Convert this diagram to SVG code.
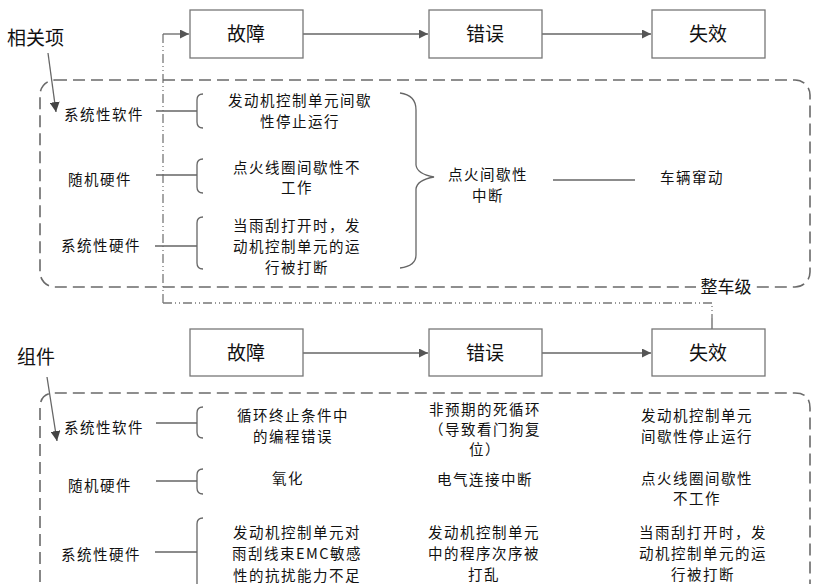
<svg xmlns="http://www.w3.org/2000/svg" width="816" height="584" viewBox="0 0 816 584">
<defs>
<marker id="arr" viewBox="0 0 10 10" refX="10" refY="5" markerWidth="9" markerHeight="9" markerUnits="userSpaceOnUse" orient="auto"><path d="M0,0 L10,5 L0,10 z" fill="#555"/></marker>
<marker id="arr2" viewBox="0 0 10 10" refX="10" refY="5" markerWidth="10" markerHeight="10" markerUnits="userSpaceOnUse" orient="auto"><path d="M0,0 L10,5 L0,10 z" fill="#444"/></marker>
</defs>
<style>
text{font-family:"Noto Sans CJK SC","Liberation Sans",sans-serif;fill:#111;text-anchor:middle;}
.t{font-size:14.5px;letter-spacing:1.5px;}
.b{font-size:19px;}
.h{font-size:19px;text-anchor:start;}
.box{fill:#fff;stroke:#777;stroke-width:1.3;}
.ln{stroke:#666;stroke-width:1.3;fill:none;}
.dash{stroke:#6a6a6a;stroke-width:1.6;fill:none;stroke-dasharray:12 6;}
.dd{stroke:#777;stroke-width:1.3;fill:none;stroke-dasharray:9 3 1 3 1 3;}
</style>
<rect width="816" height="584" fill="#fff"/>

<g id="connectors">
<path class="dd" d="M163,303 L163,34"/>
<path class="ln" d="M163,34 L189,34" marker-end="url(#arr)"/>
<path class="dd" d="M163,303 L712,303 L712,318"/>
<path class="ln" d="M712,318 L712,329"/>
<path class="ln" d="M303,34 L428,34" marker-end="url(#arr)"/>
<path class="ln" d="M542,34 L651,34" marker-end="url(#arr)"/>
<path class="ln" d="M303,353 L428,353" marker-end="url(#arr)"/>
<path class="ln" d="M542,353 L651,353" marker-end="url(#arr)"/>
<path class="ln" d="M48,53 L56,112" marker-end="url(#arr2)"/>
<path class="ln" d="M47,377 L57,441" marker-end="url(#arr2)"/>
<path class="ln" d="M156,111 L197,111 M156,175 L197,175 M155,246 L197,246"/>
<path class="ln" d="M156,423 L197,423 M156,481 L197,481 M155,552 L197,552"/>
<path class="ln" d="M553,180 L635,180"/>
</g>

<g id="vehicle-level">
<rect class="dash" x="40" y="80" width="770" height="207" rx="15"/>
<rect x="696" y="278" width="60" height="18" fill="#fff"/>
<text x="726" y="293" style="font-size:17px">整车级</text>
</g>
<g id="component-level">
<path class="dash" d="M40,600 L40,408 Q40,393 55,393 L795,393 Q810,393 810,408 L810,600"/>
</g>

<g id="label-item"><text class="h" x="7" y="45">相关项</text></g>
<g id="label-comp"><text class="h" x="17" y="364">组件</text></g>

<g id="box-fault1"><rect class="box" x="190" y="10" width="113" height="48"/><text class="b" x="246" y="41">故障</text></g>
<g id="box-error1"><rect class="box" x="429" y="10" width="113" height="48"/><text class="b" x="485" y="41">错误</text></g>
<g id="box-fail1"><rect class="box" x="652" y="10" width="113" height="48"/><text class="b" x="708" y="41">失效</text></g>
<g id="box-fault2"><rect class="box" x="190" y="329" width="113" height="47"/><text class="b" x="246" y="360">故障</text></g>
<g id="box-error2"><rect class="box" x="429" y="329" width="113" height="47"/><text class="b" x="485" y="360">错误</text></g>
<g id="box-fail2"><rect class="box" x="652" y="329" width="113" height="47"/><text class="b" x="708" y="360">失效</text></g>

<g id="top-rows">
<text class="t" x="104" y="120">系统性软件</text>
<text class="t" x="100" y="185">随机硬件</text>
<text class="t" x="101" y="251">系统性硬件</text>
<path class="ln" d="M203,94 Q197,94 197,100 L197,122 Q197,128 203,128"/>
<path class="ln" d="M203,159 Q197,159 197,165 L197,187 Q197,193 203,193"/>
<path class="ln" d="M203,217 Q197,217 197,223 L197,263 Q197,269 203,269"/>
<text class="t" x="300" y="106">发动机控制单元间歇</text>
<text class="t" x="300" y="127">性停止运行</text>
<text class="t" x="297" y="173">点火线圈间歇性不</text>
<text class="t" x="297" y="193">工作</text>
<text class="t" x="297" y="231">当雨刮打开时，发</text>
<text class="t" x="297" y="252">动机控制单元的运</text>
<text class="t" x="297" y="273">行被打断</text>
<path class="ln" d="M400,93 Q416,95 416,110 L416,165 Q417,174 434,177 Q417,180 416,189 L416,255 Q416,266 400,268"/>
<text class="t" x="488" y="180">点火间歇性</text>
<text class="t" x="488" y="201">中断</text>
<text class="t" x="692" y="183">车辆窜动</text>
</g>

<g id="bottom-rows">
<text class="t" x="104" y="433">系统性软件</text>
<text class="t" x="100" y="491">随机硬件</text>
<text class="t" x="101" y="560">系统性硬件</text>
<path class="ln" d="M203,407 Q197,407 197,413 L197,432 Q197,438 203,438"/>
<path class="ln" d="M203,469 Q197,469 197,475 L197,488 Q197,494 203,494"/>
<path class="ln" d="M203,518 Q197,518 197,524 L197,590"/>
<text class="t" x="293" y="421">循环终止条件中</text>
<text class="t" x="293" y="442">的编程错误</text>
<text class="t" x="288" y="484">氧化</text>
<text class="t" x="297" y="538">发动机控制单元对</text>
<text class="t" x="297" y="559">雨刮线束EMC敏感</text>
<text class="t" x="297" y="581">性的抗扰能力不足</text>
<text class="t" x="485" y="415">非预期的死循环</text>
<text class="t" x="485" y="435">（导致看门狗复</text>
<text class="t" x="485" y="455">位）</text>
<text class="t" x="485" y="485">电气连接中断</text>
<text class="t" x="484" y="538">发动机控制单元</text>
<text class="t" x="484" y="559">中的程序次序被</text>
<text class="t" x="484" y="580">打乱</text>
<text class="t" x="697" y="421">发动机控制单元</text>
<text class="t" x="697" y="442">间歇性停止运行</text>
<text class="t" x="697" y="484">点火线圈间歇性</text>
<text class="t" x="697" y="504">不工作</text>
<text class="t" x="703" y="538">当雨刮打开时，发</text>
<text class="t" x="703" y="559">动机控制单元的运</text>
<text class="t" x="703" y="580">行被打断</text>
</g>
</svg>
